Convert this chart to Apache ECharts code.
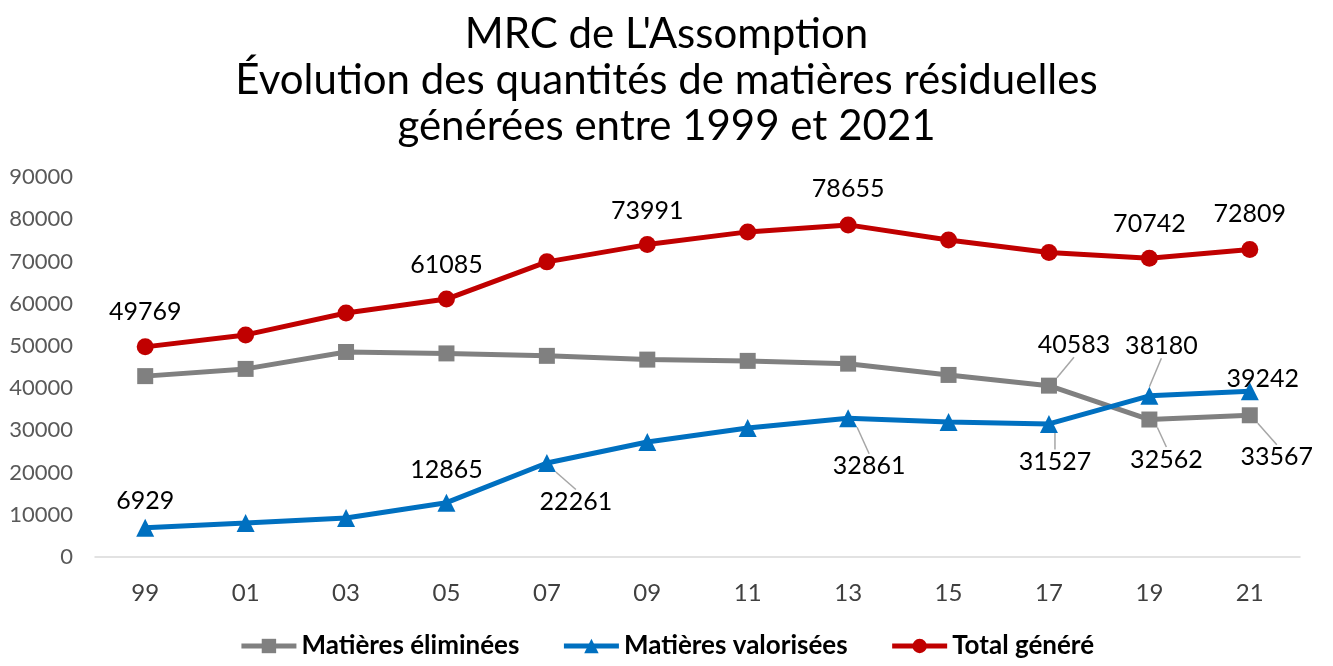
<!DOCTYPE html>
<html>
<head>
<meta charset="utf-8">
<script src="https://cdn.jsdelivr.net/npm/echarts@6/dist/echarts.min.js"></script>
<style>
  html, body { margin: 0; padding: 0; background: #fff; }
  #chart { width: 1333px; height: 666px; }
</style>
</head>
<body>
<div id="chart"></div>
<script>
// données
const years = ["99", "01", "03", "05", "07", "09", "11", "13", "15", "17", "19", "21"];
const eliminees = [42840, 44550, 48560, 48220, 47640, 46750, 46450, 45794, 43120, 40583, 32562, 33567];
const valorisees = [6929, 8050, 9240, 12865, 22261, 27240, 30550, 32861, 31980, 31527, 38180, 39242];
const total = [49769, 52600, 57800, 61085, 69900, 73991, 77000, 78655, 75100, 72110, 70742, 72809];

// points étiquetés : décalage [dx, dy, ligne de rappel]
const labelOffsets = {
  0: { 9: [25, -41, true], 10: [17, 40, true], 11: [27, 42, true] },
  1: { 0: [0, -27], 3: [0, -33], 4: [29, 39, true], 7: [21, 48, true], 9: [6, 38, true], 10: [12, -50, true], 11: [13, -12] },
  2: { 0: [0, -35], 3: [0, -34], 5: [0, -34], 7: [0, -36], 10: [0, -34], 11: [0, -36] }
};

const chart = echarts.init(document.getElementById("chart"));
const font = "Lato, 'Open Sans', sans-serif";

function makeSeries(idx, name, color, symbol, size, data) {
  return {
    name: name,
    type: "line",
    symbol: symbol,
    symbolSize: size,
    data: data.map((v, i) => {
      const item = { value: v };
      const o = labelOffsets[idx][i];
      if (o) {
        item.label = { show: true };
        item.labelLine = { show: !!o[2] };
      }
      return item;
    }),
    itemStyle: { color: color },
    lineStyle: { color: color, width: 5 },
    label: {
      show: false,
      position: "inside",
      color: "#000",
      fontSize: 25,
      fontFamily: font
    },
    labelLine: {
      show: false,
      lineStyle: { color: "#a6a6a6", width: 1.5 }
    },
    labelLayout: function (p) {
      const o = labelOffsets[idx][p.dataIndex];
      if (!o) return {};
      return { dx: o[0], dy: o[1] };
    },
    z: idx + 2
  };
}

chart.setOption({
  backgroundColor: "#fff",
  animation: false,
  title: {
    text: "MRC de L'Assomption\nÉvolution des quantités de matières résiduelles\ngénérées entre 1999 et 2021",
    left: "center",
    top: 6,
    textStyle: {
      fontFamily: font,
      fontWeight: "normal",
      fontSize: 42,
      lineHeight: 46,
      color: "#000"
    }
  },
  grid: { left: 95, right: 33, top: 177, bottom: 109 },
  legend: {
    bottom: 2,
    left: "center",
    itemWidth: 55,
    itemHeight: 18,
    itemGap: 42,
    lineStyle: { width: 5 },
    textStyle: { fontFamily: font, fontWeight: "bold", fontSize: 26, color: "#000" },
    data: ["Matières éliminées", "Matières valorisées", "Total généré"]
  },
  xAxis: {
    type: "category",
    data: years,
    boundaryGap: true,
    axisLine: { lineStyle: { color: "#d9d9d9", width: 1.5 } },
    axisTick: { show: false },
    axisLabel: { color: "#404040", fontSize: 24, fontFamily: font, margin: 24 }
  },
  yAxis: {
    type: "value",
    min: 0,
    max: 90000,
    interval: 10000,
    axisLine: { show: false },
    axisTick: { show: false },
    splitLine: { show: false },
    axisLabel: {
      color: "#595959",
      fontSize: 22,
      fontFamily: font,
      margin: 22,
      formatter: (v) => String(v)
    }
  },
  series: [
    makeSeries(0, "Matières éliminées", "#808080", "rect", 16, eliminees),
    makeSeries(1, "Matières valorisées", "#0070c0", "triangle", 18, valorisees),
    makeSeries(2, "Total généré", "#c00000", "circle", 17, total)
  ]
});
</script>
</body>
</html>
